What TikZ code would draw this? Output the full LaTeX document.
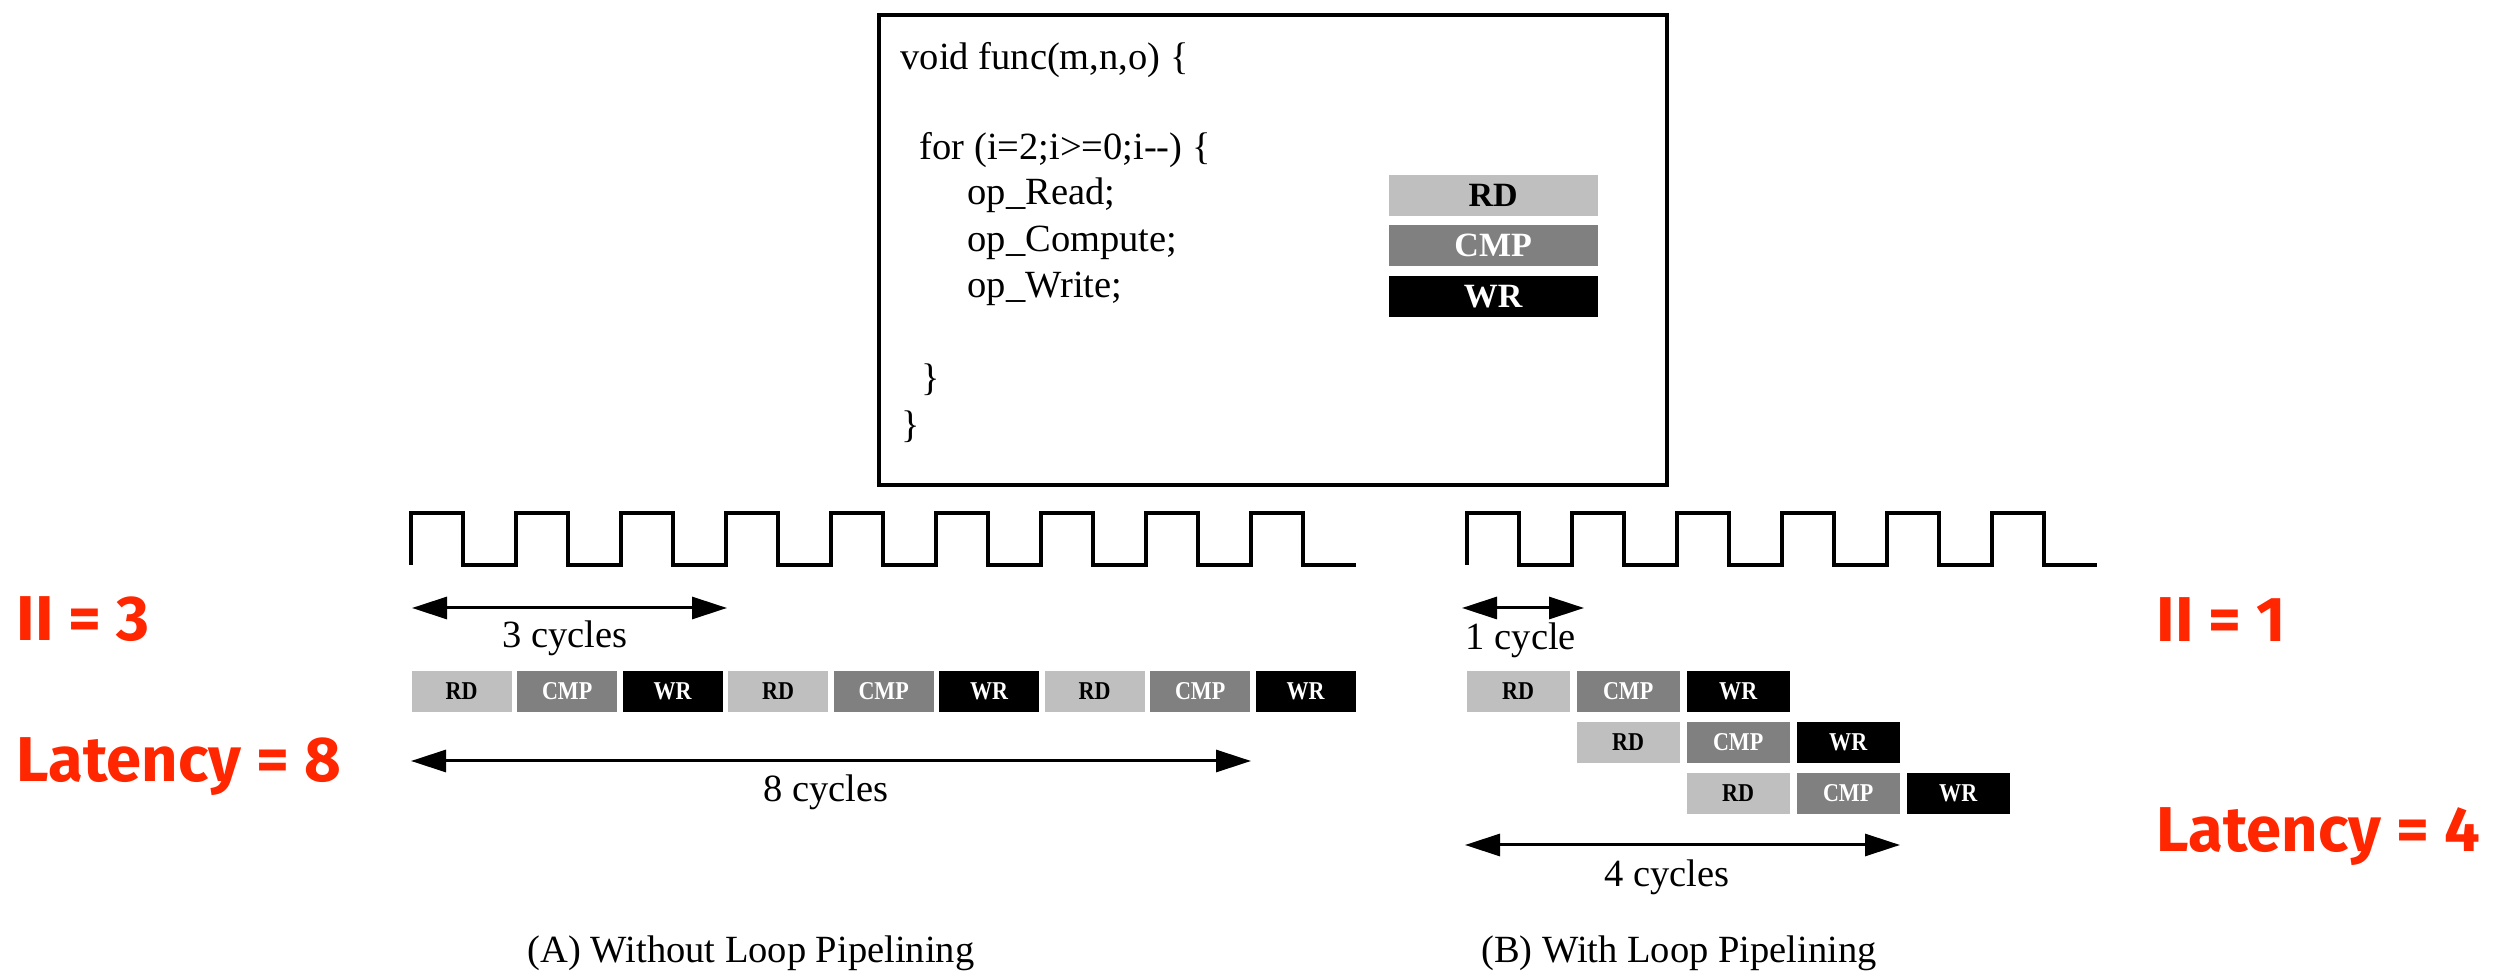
\documentclass[tikz,border=0pt]{standalone}
\usepackage{fontspec}
\setmainfont{Liberation Serif}
\newfontfamily\labelfont{Fira Sans}
\usetikzlibrary{arrows.meta}
\definecolor{rdgray}{gray}{0.75}
\definecolor{cmpgray}{gray}{0.5}
\definecolor{hotred}{RGB}{255,38,0}
\newcommand\opname[1]{\scalebox{0.86}[1]{#1}}

\begin{document}
\begin{tikzpicture}[x=0.3pt,y=-0.3pt,
  codetext/.style={anchor=base west, inner sep=0pt, font=\fontsize{11.55}{13.9}\selectfont},
  cyclelabel/.style={anchor=base, inner sep=0pt, font=\fontsize{11.55}{13.9}\selectfont},
  opbox/.style={anchor=north west, inner sep=0pt, minimum height=12.3pt, minimum width=30pt,
    font=\fontsize{7.7}{8.5}\selectfont\bfseries},
  rdbox/.style={opbox, fill=rdgray, text=black},
  cmpbox/.style={opbox, fill=cmpgray, text=white},
  wrbox/.style={opbox, fill=black, text=white},
  legendbox/.style={anchor=north west, inner sep=0pt, minimum width=62.7pt, minimum height=12.3pt,
    font=\fontsize{10.2}{12}\selectfont\bfseries},
  clockline/.style={line width=1pt, line cap=butt},
  dimarrow/.style={line width=0.9pt,
    {Triangle[length=10.5pt,width=6.6pt]}-{Triangle[length=10.5pt,width=6.6pt]}},
  redlabel/.style={anchor=base west, inner sep=0pt, text=hotred,
    font=\labelfont\bfseries\fontsize{19}{22}\selectfont}
]
\useasboundingbox[fill=white] (0,0) rectangle (2506,972);

% ---------- code listing ----------
\node[draw, line width=1.2pt, anchor=north west, inner sep=0pt,
      minimum width=236.4pt, minimum height=141pt] (codebox) at (877,13) {};
\node[codetext] (l1) at (900,70)  {void func(m,n,o) \{};
\node[codetext] (l2) at (919,160) {for (i=2;i>=0;i-{}-) \{};
\node[codetext] (l3) at (967,205) {op\_Read;};
\node[codetext] (l4) at (967,252) {op\_Compute;};
\node[codetext] (l5) at (967,298) {op\_Write;};
\node[codetext] (l6) at (921,391) {\}};
\node[codetext] (l7) at (901,438) {\}};

\node[legendbox, fill=rdgray, text=black] (legRD)  at (1388,174) {RD};
\node[legendbox, fill=cmpgray, text=white] (legCMP) at (1388,224) {CMP};
\node[legendbox, fill=black, text=white]   (legWR)  at (1388,275) {WR};

% ---------- (A) without pipelining ----------
\draw[clockline] (411,565)
  \foreach \k in {0,...,8} { -- ++(0,-52) -- ++(52,0) -- ++(0,52) -- ++(53,0) };

\coordinate (a3L) at (412,608);
\coordinate (a3R) at (727,608);
\draw[dimarrow] (a3L) -- (a3R);
\node[cyclelabel] (a3txt) at (565,648) {3 cycles};

\foreach \i in {0,1,2} {
  \pgfmathsetmacro\xa{411+316.5*\i}
  \node[rdbox]  (aRD\i)  at (\xa,670)       {\opname{RD}};
  \node[cmpbox] (aCMP\i) at (\xa+105.5,670) {\opname{CMP}};
  \node[wrbox]  (aWR\i)  at (\xa+211,670)   {\opname{WR}};
}

\coordinate (a8L) at (411,761);
\coordinate (a8R) at (1251,761);
\draw[dimarrow] (a8L) -- (a8R);
\node[cyclelabel] (a8txt) at (826,802) {8 cycles};

\node[cyclelabel] (capA) at (751,963) {(A) Without Loop Pipelining};

% ---------- (B) with pipelining ----------
\draw[clockline] (1467,565)
  \foreach \k in {0,...,5} { -- ++(0,-52) -- ++(52,0) -- ++(0,52) -- ++(53,0) };

\coordinate (b1L) at (1462,608);
\coordinate (b1R) at (1584,608);
\draw[dimarrow] (b1L) -- (b1R);
\node[cyclelabel] (b1txt) at (1521,650) {1 cycle};

\foreach \r in {0,1,2} {
  \pgfmathsetmacro\xb{1466+110*\r}
  \pgfmathsetmacro\yb{670+51*\r}
  \node[rdbox,  minimum width=30.9pt] (bRD\r)  at (\xb,\yb)     {\opname{RD}};
  \node[cmpbox, minimum width=30.9pt] (bCMP\r) at (\xb+110,\yb) {\opname{CMP}};
  \node[wrbox,  minimum width=30.9pt] (bWR\r)  at (\xb+220,\yb) {\opname{WR}};
}

\coordinate (b4L) at (1465,845);
\coordinate (b4R) at (1900,845);
\draw[dimarrow] (b4L) -- (b4R);
\node[cyclelabel] (b4txt) at (1667,887) {4 cycles};

\node[cyclelabel] (capB) at (1679,963) {(B) With Loop Pipelining};

% ---------- metrics ----------
\node[redlabel] (iiA)  at (16,641)   {II = 3};
\node[redlabel] (latA) at (16,782)   {Latency = 8};
\node[redlabel] (iiB)  at (2156,642) {II = 1};
\node[redlabel] (latB) at (2156,852) {Latency = 4};
\end{tikzpicture}
\end{document}
